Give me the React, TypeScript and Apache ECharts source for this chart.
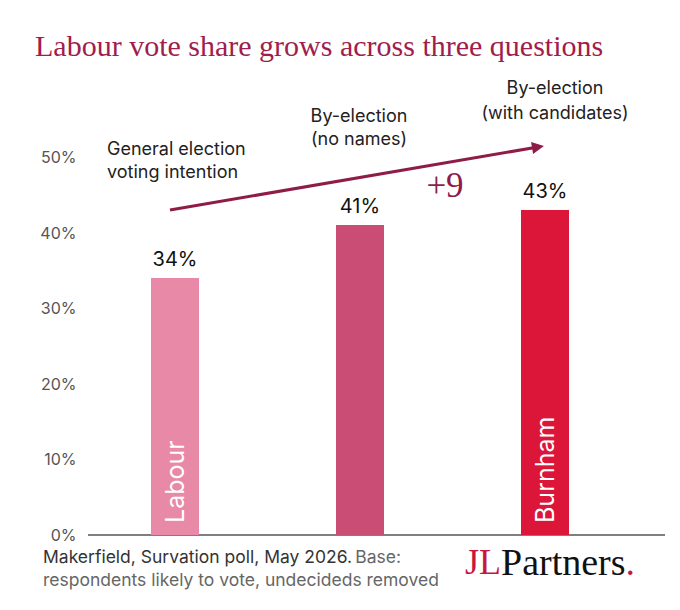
import React, { useEffect, useRef } from 'react';
import * as echarts from 'echarts';

const categories = [
  'General election voting intention',
  'By-election (no names)',
  'By-election (with candidates)',
];
const voteShare = [34, 41, 43];
const barNames = ['Labour', '', 'Burnham'];
const barColors = ['#e889a8', '#c94d75', '#dc1639'];
const yTicks = [0, 10, 20, 30, 40, 50];

const SANS = 'Inter, "Noto Sans", sans-serif';
const SERIF = '"Liberation Serif", "DejaVu Serif", serif';
const MAROON = '#8e1c47';

const App: React.FC = () => {
  const chartRef = useRef<HTMLDivElement | null>(null);

  useEffect(() => {
    document.body.style.margin = '0';
    let chart: echarts.ECharts | null = null;
    if (chartRef.current) {
      chart = echarts.init(chartRef.current, null, { renderer: 'svg' });

      const option = {
        animation: false,
        backgroundColor: '#ffffff',
        grid: { left: 82.5, right: 42.5, top: 157, bottom: 75 },
        xAxis: {
          type: 'category',
          data: categories,
          axisLine: { show: false },
          axisTick: { show: false },
          axisLabel: { show: false },
        },
        yAxis: {
          type: 'value',
          min: yTicks[0],
          max: yTicks[yTicks.length - 1],
          interval: 10,
          splitLine: { show: false },
          axisLine: { show: false },
          axisTick: { show: false },
          axisLabel: {
            formatter: '{value}%',
            color: '#555',
            fontSize: 16,
            fontFamily: SANS,
            margin: 6,
          },
        },
        series: [
          {
            type: 'bar',
            barWidth: 48,
            data: voteShare.map((v, i) => ({
              value: v,
              itemStyle: { color: barColors[i] },
            })),
            label: {
              show: true,
              position: 'top',
              distance: 9,
              formatter: '{c}%',
              color: '#111',
              fontSize: 20,
              fontFamily: SANS,
            },
            markLine: {
              silent: true,
              symbol: ['none', 'triangle'],
              symbolSize: 12,
              label: { show: false },
              lineStyle: { color: MAROON, width: 3, type: 'solid' },
              data: [[{ x: 170, y: 210 }, { x: 538, y: 147 }]],
            },
          },
          {
            // white party / candidate names inside the bars
            type: 'bar',
            barWidth: 48,
            barGap: '-100%',
            silent: true,
            itemStyle: { color: 'transparent' },
            data: voteShare,
            label: {
              show: true,
              position: 'insideBottom',
              rotate: 90,
              align: 'left',
              verticalAlign: 'middle',
              distance: 12,
              formatter: (p: any) => barNames[p.dataIndex],
              color: '#ffffff',
              fontSize: 25,
              fontFamily: SANS,
            },
          },
        ],
        graphic: [
          {
            type: 'text',
            left: 35,
            top: 30,
            style: {
              text: 'Labour vote share grows across three questions',
              fill: '#a01d4d',
              font: `30px ${SERIF}`,
            },
          },
          {
            type: 'text',
            x: 555,
            y: 100,
            style: {
              text: 'By-election\n(with candidates)',
              fill: '#222',
              font: `18px ${SANS}`,
              lineHeight: 25,
              align: 'center',
              verticalAlign: 'middle',
            },
          },
          {
            type: 'text',
            x: 359,
            y: 127,
            style: {
              text: 'By-election\n(no names)',
              fill: '#222',
              font: `18px ${SANS}`,
              lineHeight: 23,
              align: 'center',
              verticalAlign: 'middle',
            },
          },
          {
            type: 'text',
            x: 107,
            y: 160,
            style: {
              text: 'General election\nvoting intention',
              fill: '#222',
              font: `18px ${SANS}`,
              lineHeight: 23,
              align: 'left',
              verticalAlign: 'middle',
            },
          },
          {
            type: 'text',
            x: 445,
            y: 185,
            style: {
              text: '+9',
              fill: MAROON,
              font: `35px ${SERIF}`,
              align: 'center',
              verticalAlign: 'middle',
            },
          },
          {
            type: 'line',
            shape: { x1: 88, y1: 535, x2: 665, y2: 535 },
            style: { stroke: '#555', lineWidth: 1.5 },
          },
          {
            type: 'text',
            x: 43,
            y: 568,
            style: {
              text: '{a|Makerfield, Survation poll, May 2026.} {b|Base:}\n{b|respondents likely to vote, undecideds removed}',
              verticalAlign: 'middle',
              rich: {
                a: { fill: '#333', font: `17.5px ${SANS}`, lineHeight: 23 },
                b: { fill: '#666', font: `17.5px ${SANS}`, lineHeight: 23 },
              },
            },
          },
          {
            type: 'text',
            x: 465,
            y: 562,
            style: {
              text: '{j|JL}{p|Partners}{d|.}',
              verticalAlign: 'middle',
              rich: {
                j: { fill: '#c8163f', font: `36px ${SERIF}` },
                p: { fill: '#111', font: `38px ${SERIF}` },
                d: { fill: '#c8163f', font: `38px ${SERIF}` },
              },
            },
          },
        ],
      };

      chart.setOption(option);
    }

    return () => {
      chart?.dispose();
    };
  }, []);

  return <div ref={chartRef} style={{ width: 680, height: 610 }} />;
};

export default App;
